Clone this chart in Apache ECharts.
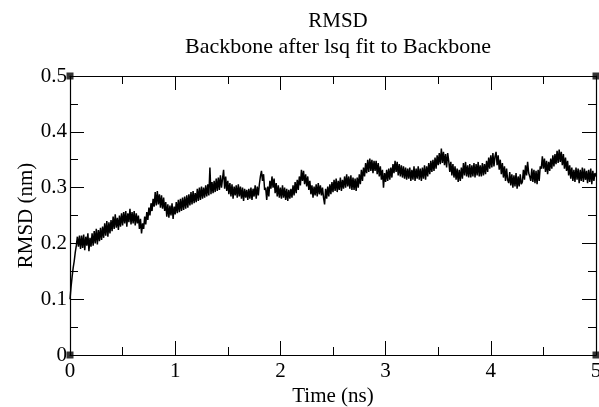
<!DOCTYPE html>
<html>
<head>
<meta charset="utf-8">
<script src="https://cdn.jsdelivr.net/npm/echarts@6/dist/echarts.min.js"></script>
<style>html,body{margin:0;padding:0;background:#fff}#c{width:599px;height:407px}</style>
</head>
<body>
<div id="c"></div>
<script>
var titleText = 'RMSD';
var subtitleText = 'Backbone after lsq fit to Backbone';
var xName = 'Time (ns)';
var yName = 'RMSD (nm)';
var xRange = [0, 5];
var yRange = [0, 0.5];
var timeStep = 0.01;
// RMSD (nm), one value every 0.01 ns from 0 to 5 ns (10 values per row = 0.1 ns)
var rmsd = [
0.100,0.122,0.140,0.156,0.168,0.184,0.196,0.212,0.194,0.214,
0.190,0.214,0.192,0.216,0.188,0.212,0.196,0.218,0.186,0.210,
0.194,0.218,0.196,0.222,0.200,0.226,0.198,0.224,0.204,0.228,
0.206,0.230,0.210,0.236,0.214,0.240,0.212,0.238,0.218,0.242,
0.222,0.248,0.226,0.252,0.228,0.246,0.224,0.250,0.230,0.254,
0.232,0.256,0.236,0.258,0.230,0.254,0.238,0.262,0.234,0.256,
0.236,0.258,0.232,0.254,0.236,0.250,0.226,0.244,0.218,0.236,
0.226,0.248,0.234,0.256,0.242,0.264,0.250,0.272,0.258,0.280,
0.266,0.292,0.268,0.294,0.270,0.288,0.264,0.286,0.262,0.282,
0.258,0.274,0.248,0.270,0.246,0.268,0.250,0.272,0.244,0.266,
0.252,0.274,0.254,0.278,0.256,0.280,0.258,0.282,0.260,0.284,
0.262,0.286,0.264,0.288,0.268,0.292,0.270,0.294,0.272,0.290,
0.274,0.298,0.276,0.300,0.278,0.302,0.280,0.300,0.282,0.304,
0.284,0.306,0.286,0.336,0.288,0.310,0.290,0.312,0.292,0.316,
0.294,0.318,0.296,0.322,0.300,0.316,0.332,0.298,0.320,0.294,
0.312,0.288,0.308,0.284,0.306,0.280,0.302,0.286,0.304,0.282,
0.306,0.284,0.302,0.280,0.300,0.276,0.298,0.282,0.296,0.278,
0.298,0.280,0.300,0.278,0.298,0.284,0.304,0.280,0.302,0.286,
0.306,0.320,0.330,0.312,0.324,0.296,0.300,0.278,0.302,0.284,
0.312,0.298,0.320,0.300,0.316,0.290,0.308,0.284,0.304,0.282,
0.300,0.280,0.304,0.282,0.300,0.278,0.298,0.276,0.296,0.280,
0.298,0.282,0.304,0.286,0.310,0.290,0.314,0.296,0.320,0.304,
0.332,0.312,0.330,0.306,0.324,0.302,0.320,0.296,0.312,0.288,
0.304,0.282,0.302,0.286,0.306,0.284,0.308,0.288,0.304,0.286,
0.300,0.282,0.270,0.298,0.280,0.302,0.284,0.306,0.288,0.310,
0.292,0.314,0.294,0.316,0.292,0.312,0.296,0.318,0.294,0.314,
0.298,0.320,0.300,0.324,0.302,0.320,0.298,0.322,0.296,0.318,
0.296,0.316,0.294,0.318,0.300,0.324,0.306,0.332,0.312,0.336,
0.320,0.344,0.326,0.350,0.328,0.352,0.330,0.350,0.326,0.348,
0.330,0.348,0.324,0.344,0.320,0.338,0.314,0.332,0.300,0.326,
0.310,0.332,0.312,0.334,0.314,0.336,0.318,0.342,0.326,0.348,
0.328,0.346,0.322,0.342,0.320,0.340,0.318,0.338,0.316,0.336,
0.314,0.334,0.316,0.336,0.312,0.332,0.314,0.338,0.312,0.334,
0.316,0.338,0.314,0.334,0.312,0.336,0.316,0.340,0.314,0.338,
0.320,0.344,0.324,0.348,0.328,0.350,0.330,0.354,0.334,0.358,
0.340,0.362,0.342,0.370,0.344,0.364,0.340,0.360,0.336,0.362,
0.348,0.328,0.346,0.322,0.342,0.318,0.338,0.314,0.334,0.310,
0.332,0.312,0.336,0.316,0.344,0.322,0.346,0.320,0.340,0.318,
0.342,0.318,0.340,0.320,0.344,0.318,0.342,0.322,0.346,0.320,
0.340,0.320,0.344,0.322,0.342,0.324,0.348,0.328,0.354,0.334,
0.358,0.336,0.362,0.338,0.356,0.364,0.340,0.358,0.332,0.350,
0.324,0.344,0.318,0.338,0.312,0.334,0.314,0.308,0.328,0.304,
0.324,0.300,0.322,0.302,0.326,0.298,0.320,0.302,0.324,0.306,
0.310,0.332,0.314,0.340,0.322,0.346,0.326,0.320,0.312,0.334,
0.310,0.332,0.308,0.330,0.306,0.332,0.312,0.338,0.334,0.356,
0.334,0.352,0.328,0.348,0.324,0.346,0.330,0.352,0.334,0.358,
0.338,0.360,0.342,0.366,0.344,0.368,0.346,0.364,0.340,0.360,
0.334,0.354,0.330,0.348,0.322,0.340,0.316,0.336,0.312,0.332,
0.310,0.336,0.314,0.334,0.308,0.332,0.312,0.336,0.310,0.334,
0.314,0.330,0.308,0.332,0.310,0.334,0.306,0.330,0.312,0.326,
0.320
];

var lineData = rmsd.map(function (v, i) { return [+(i * timeStep).toFixed(2), v]; });
var corners = [[xRange[0], yRange[0]], [xRange[0], yRange[1]], [xRange[1], yRange[0]], [xRange[1], yRange[1]]];

var FONT = 'Liberation Serif';
var axisCommon = function (extra) {
  var base = {
    axisLine: { show: true, onZero: false, lineStyle: { color: '#000', width: 1.2 } },
    axisTick: { show: true, inside: true, length: 14, lineStyle: { color: '#000', width: 1 } },
    minorTick: { show: true, splitNumber: 2, length: 8, lineStyle: { color: '#000', width: 1 } },
    splitLine: { show: false },
    minorSplitLine: { show: false },
    nameMoveOverlap: false
  };
  for (var k in extra) base[k] = extra[k];
  return base;
};

var chart = echarts.init(document.getElementById('c'), null, { renderer: 'canvas' });
chart.setOption({
  animation: false,
  backgroundColor: '#fff',
  textStyle: { fontFamily: FONT },
  title: [
    { text: titleText, left: 333, top: 6, textAlign: 'center',
      textStyle: { fontFamily: FONT, fontWeight: 'normal', fontSize: 21, color: '#000' } },
    { text: subtitleText, left: 333, top: 31, textAlign: 'center',
      textStyle: { fontFamily: FONT, fontWeight: 'normal', fontSize: 22, color: '#000' } }
  ],
  grid: { left: 70, right: 3, top: 76, bottom: 52, containLabel: false, outerBoundsMode: 'none' },
  xAxis: [
    axisCommon({ type: 'value', position: 'bottom', min: xRange[0], max: xRange[1], interval: 1,
      name: xName, nameLocation: 'middle', nameGap: 31,
      nameTextStyle: { fontFamily: FONT, fontSize: 21, color: '#000' },
      axisLabel: { show: true, margin: 6, fontFamily: FONT, fontSize: 21, color: '#000' } }),
    axisCommon({ type: 'value', position: 'top', min: xRange[0], max: xRange[1], interval: 1,
      axisLabel: { show: false } })
  ],
  yAxis: [
    axisCommon({ type: 'value', position: 'left', min: yRange[0], max: yRange[1], interval: 0.1,
      name: yName, nameLocation: 'middle', nameGap: 33,
      nameTextStyle: { fontFamily: FONT, fontSize: 21, color: '#000' },
      axisLabel: { show: true, margin: 3, fontFamily: FONT, fontSize: 21, color: '#000',
        formatter: function (v) { return v === 0 ? '0' : v.toFixed(1); } } }),
    axisCommon({ type: 'value', position: 'right', min: yRange[0], max: yRange[1], interval: 0.1,
      axisLabel: { show: false } })
  ],
  series: [
    { type: 'line', data: lineData, xAxisIndex: 0, yAxisIndex: 0, showSymbol: false, symbol: 'none',
      lineStyle: { color: '#000', width: 1.5 }, silent: true, z: 3 },
    { type: 'scatter', data: corners, xAxisIndex: 0, yAxisIndex: 0, symbol: 'rect', symbolSize: 7,
      itemStyle: { color: '#000' }, silent: true, z: 4 }
  ]
});
</script>
</body>
</html>
